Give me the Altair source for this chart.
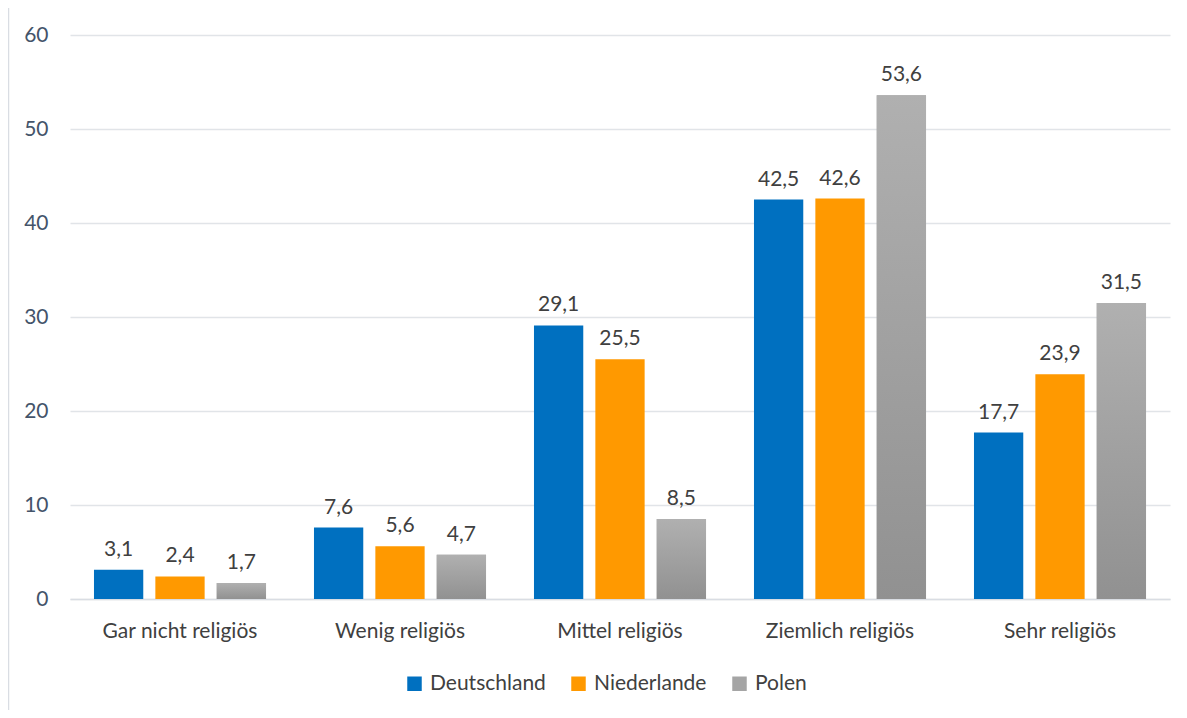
import altair as alt
import pandas as pd

categories = ["Gar nicht religiös", "Wenig religiös", "Mittel religiös", "Ziemlich religiös", "Sehr religiös"]
countries = ["Deutschland", "Niederlande", "Polen"]
deutschland = [3.1, 7.6, 29.1, 42.5, 17.7]
niederlande = [2.4, 5.6, 25.5, 42.6, 23.9]
polen = [1.7, 4.7, 8.5, 53.6, 31.5]
y_ticks = [0, 10, 20, 30, 40, 50, 60]

rows = []
for c, vals in zip(countries, [deutschland, niederlande, polen]):
    for cat, v in zip(categories, vals):
        rows.append({"Kategorie": cat, "Land": c, "Wert": v})
df = pd.DataFrame(rows)

FONT = "Lato"
FS = 21
W, H = 1100, 564

x = alt.X("Kategorie:N", sort=categories, title=None,
          scale=alt.Scale(paddingInner=0.218, paddingOuter=0.109),
          axis=alt.Axis(labelAngle=0, labelFontSize=FS, labelColor="#404040", labelFont=FONT,
                        labelPadding=21, ticks=False, domainColor="#D9DDE3", domainWidth=1.5))
xo = alt.XOffset("Land:N", sort=countries, scale=alt.Scale(paddingInner=0.197, paddingOuter=0))
y = alt.Y("Wert:Q", title=None,
          scale=alt.Scale(domain=[0, 60], nice=False),
          axis=alt.Axis(values=y_ticks, labelFontSize=FS, labelColor="#44546A", labelFont=FONT,
                        labelPadding=22, ticks=False, domain=False, gridColor="#E1E4E8", gridWidth=1.3))

color = alt.Color("Land:N", sort=countries, title=None,
                  scale=alt.Scale(domain=countries, range=["#0070C0", "#FF9900", "#A5A5A5"]),
                  legend=alt.Legend(orient="none", direction="horizontal", legendX=334, legendY=638,
                                    symbolType="square", symbolSize=210, symbolStrokeWidth=0,
                                    labelFontSize=FS, labelColor="#404040", labelFont=FONT,
                                    columnPadding=22, labelOffset=5))

base = alt.Chart(df)
bars = base.mark_bar().encode(x=x, xOffset=xo, y=y, color=color)

grad = alt.Gradient(gradient="linear", x1=0, x2=0, y1=0, y2=1,
                    stops=[alt.GradientStop(color="#B0B0B0", offset=0),
                           alt.GradientStop(color="#919191", offset=1)])
polen_bars = base.transform_filter(alt.datum.Land == "Polen").mark_bar(color=grad).encode(
    x=alt.X("Kategorie:N", sort=categories), xOffset=alt.XOffset("Land:N", sort=countries), y="Wert:Q")

labels = base.transform_calculate(
    txt="replace(format(datum.Wert, '.1f'), '.', ',')"
).mark_text(baseline="bottom", dy=-10, fontSize=FS, color="#404040", font=FONT).encode(
    x=alt.X("Kategorie:N", sort=categories), xOffset=alt.XOffset("Land:N", sort=countries),
    y="Wert:Q", text="txt:N")

frame = alt.Chart(pd.DataFrame({"a": [0]})).mark_rect(
    fillOpacity=0, stroke="#D9DDE3", strokeWidth=1.5, clip=False
).encode(x=alt.value(-61.5), x2=alt.value(1200), y=alt.value(-28.5), y2=alt.value(720))

chart = alt.layer(frame, bars, polen_bars, labels).properties(
    width=W, height=H,
    autosize=alt.AutoSizeParams(type="none"),
    padding={"left": 62, "top": 27, "right": 9, "bottom": 111},
).configure(font=FONT, view=alt.ViewConfig(stroke=None, strokeWidth=0))

chart.save("out.html", embed_options={"renderer": "svg", "actions": False})
